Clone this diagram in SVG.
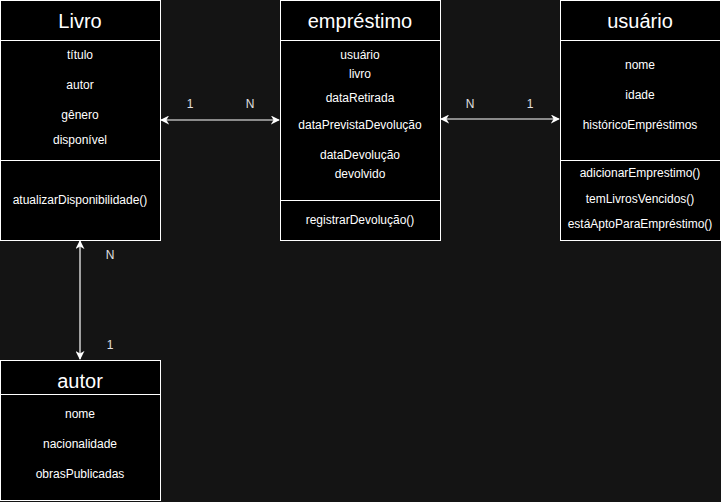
<svg xmlns="http://www.w3.org/2000/svg" width="721" height="502" viewBox="0 0 721 502">
<style>
.box{fill:#000;stroke:#fff;stroke-width:1}
.ln{stroke:#fff;stroke-width:1;fill:none}
.t{font-family:"Liberation Sans",Arial,sans-serif;font-size:12px;fill:#fff;text-anchor:middle;dominant-baseline:central}
.h{font-size:20px}
.lbl{fill:#e0e0e0}
.c{stroke:#fff;stroke-width:1.2;fill:none;marker-start:url(#a);marker-end:url(#a)}
</style>
<defs>
<marker id="a" viewBox="0 0 10 10" refX="9" refY="5" markerWidth="9" markerHeight="9" markerUnits="userSpaceOnUse" orient="auto-start-reverse">
<path d="M0,0 L10,5 L0,10 L3,5 Z" fill="#fff"/>
</marker>
</defs>
<rect width="721" height="502" fill="#141414"/>
<g id="connectors">
<line class="c" x1="161" y1="120" x2="279" y2="120"/>
<line class="c" x1="441" y1="119" x2="559" y2="119"/>
<line class="c" x1="80" y1="241" x2="80" y2="359"/>
<text class="t lbl" x="190" y="104">1</text>
<text class="t lbl" x="250" y="104">N</text>
<text class="t lbl" x="470" y="104">N</text>
<text class="t lbl" x="530" y="104">1</text>
<text class="t lbl" x="110" y="255">N</text>
<text class="t lbl" x="110" y="345">1</text>
</g>
<g id="livro">
<rect class="box" x="0.5" y="0.5" width="160" height="240"/>
<line class="ln" x1="0.5" y1="40.5" x2="160.5" y2="40.5"/>
<line class="ln" x1="0.5" y1="160.5" x2="160.5" y2="160.5"/>
<text class="t h" x="80" y="21">Livro</text>
<text class="t" x="80" y="55">título</text>
<text class="t" x="80" y="85">autor</text>
<text class="t" x="80" y="115">gênero</text>
<text class="t" x="80" y="140">disponível</text>
<text class="t" x="80" y="200">atualizarDisponibilidade()</text>
</g>
<g id="emprestimo">
<rect class="box" x="280.5" y="0.5" width="160" height="240"/>
<line class="ln" x1="280.5" y1="40.5" x2="440.5" y2="40.5"/>
<line class="ln" x1="280.5" y1="200.5" x2="440.5" y2="200.5"/>
<text class="t h" x="360" y="21">empréstimo</text>
<text class="t" x="360" y="55">usuário</text>
<text class="t" x="360" y="74">livro</text>
<text class="t" x="360" y="98">dataRetirada</text>
<text class="t" x="360" y="125">dataPrevistaDevolução</text>
<text class="t" x="360" y="155">dataDevolução</text>
<text class="t" x="360" y="174">devolvido</text>
<text class="t" x="360" y="220">registrarDevolução()</text>
</g>
<g id="usuario">
<rect class="box" x="560.5" y="0.5" width="160" height="240"/>
<line class="ln" x1="560.5" y1="40.5" x2="720.5" y2="40.5"/>
<line class="ln" x1="560.5" y1="160.5" x2="720.5" y2="160.5"/>
<text class="t h" x="640" y="21">usuário</text>
<text class="t" x="640" y="65">nome</text>
<text class="t" x="640" y="95">idade</text>
<text class="t" x="640" y="125">históricoEmpréstimos</text>
<text class="t" x="640" y="173">adicionarEmprestimo()</text>
<text class="t" x="640" y="199">temLivrosVencidos()</text>
<text class="t" x="640" y="224">estáAptoParaEmpréstimo()</text>
</g>
<g id="autor">
<rect class="box" x="0.5" y="360.5" width="160" height="140"/>
<line class="ln" x1="0.5" y1="394.5" x2="160.5" y2="394.5"/>
<text class="t h" x="80" y="381">autor</text>
<text class="t" x="80" y="414">nome</text>
<text class="t" x="80" y="444">nacionalidade</text>
<text class="t" x="80" y="474">obrasPublicadas</text>
</g>
</svg>
